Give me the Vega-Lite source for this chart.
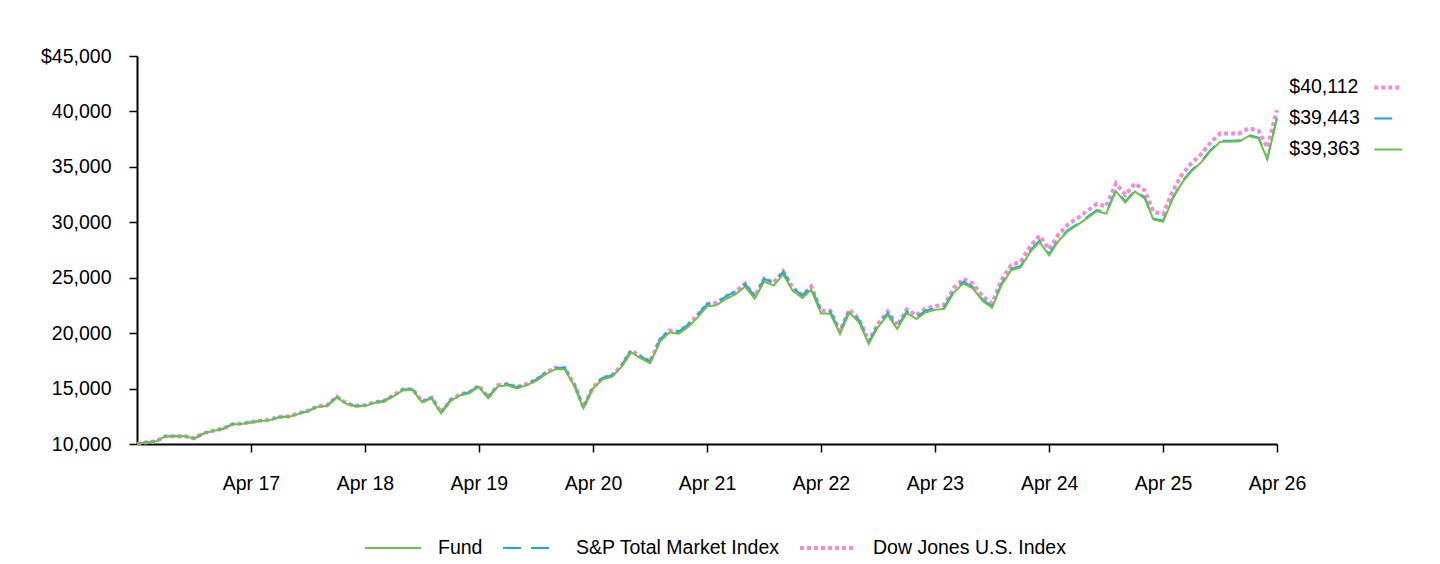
{
  "$schema": "https://vega.github.io/schema/vega-lite/v6.json",
  "width": 1140,
  "height": 388,
  "autosize": {"type": "none"},
  "padding": {"left": 137, "top": 56, "right": 163, "bottom": 120},
  "background": "white",
  "config": {
    "view": {"stroke": null},
    "font": "Liberation Sans",
    "axis": {"grid": false, "labelFont": "Liberation Sans", "labelFontSize": 19.5, "labelColor": "#000", "domainColor": "#000", "domainWidth": 2, "tickColor": "#000", "tickWidth": 1.5, "tickSize": 8},
    "legend": {"labelFont": "Liberation Sans", "labelFontSize": 19.5, "labelColor": "#000", "padding": 0, "labelLimit": 400}
  },
  "layer": [
    {
      "data": {"values": [
        {"date": "2016-04-01", "Fund": 10000, "SP": 10000, "DowJones": 10000},
        {"date": "2016-05-01", "Fund": 10150, "SP": 10150, "DowJones": 10150},
        {"date": "2016-06-01", "Fund": 10250, "SP": 10250, "DowJones": 10250},
        {"date": "2016-07-01", "Fund": 10680, "SP": 10690, "DowJones": 10690},
        {"date": "2016-08-01", "Fund": 10700, "SP": 10710, "DowJones": 10710},
        {"date": "2016-09-01", "Fund": 10700, "SP": 10710, "DowJones": 10710},
        {"date": "2016-10-01", "Fund": 10500, "SP": 10510, "DowJones": 10510},
        {"date": "2016-11-01", "Fund": 10950, "SP": 10960, "DowJones": 10970},
        {"date": "2016-12-01", "Fund": 11180, "SP": 11200, "DowJones": 11200},
        {"date": "2017-01-01", "Fund": 11350, "SP": 11370, "DowJones": 11370},
        {"date": "2017-02-01", "Fund": 11780, "SP": 11800, "DowJones": 11800},
        {"date": "2017-03-01", "Fund": 11800, "SP": 11820, "DowJones": 11830},
        {"date": "2017-04-01", "Fund": 11950, "SP": 11970, "DowJones": 11980},
        {"date": "2017-05-01", "Fund": 12070, "SP": 12100, "DowJones": 12100},
        {"date": "2017-06-01", "Fund": 12160, "SP": 12190, "DowJones": 12200},
        {"date": "2017-07-01", "Fund": 12400, "SP": 12430, "DowJones": 12440},
        {"date": "2017-08-01", "Fund": 12450, "SP": 12480, "DowJones": 12490},
        {"date": "2017-09-01", "Fund": 12720, "SP": 12760, "DowJones": 12770},
        {"date": "2017-10-01", "Fund": 12950, "SP": 12990, "DowJones": 13000},
        {"date": "2017-11-01", "Fund": 13360, "SP": 13400, "DowJones": 13410},
        {"date": "2017-12-01", "Fund": 13430, "SP": 13480, "DowJones": 13490},
        {"date": "2018-01-01", "Fund": 14200, "SP": 14250, "DowJones": 14260},
        {"date": "2018-02-01", "Fund": 13620, "SP": 13670, "DowJones": 13680},
        {"date": "2018-03-01", "Fund": 13380, "SP": 13430, "DowJones": 13440},
        {"date": "2018-04-01", "Fund": 13430, "SP": 13480, "DowJones": 13500},
        {"date": "2018-05-01", "Fund": 13700, "SP": 13760, "DowJones": 13770},
        {"date": "2018-06-01", "Fund": 13820, "SP": 13880, "DowJones": 13890},
        {"date": "2018-07-01", "Fund": 14300, "SP": 14360, "DowJones": 14380},
        {"date": "2018-08-01", "Fund": 14850, "SP": 14920, "DowJones": 14930},
        {"date": "2018-09-01", "Fund": 14870, "SP": 14940, "DowJones": 14950},
        {"date": "2018-10-01", "Fund": 13760, "SP": 13830, "DowJones": 13840},
        {"date": "2018-11-01", "Fund": 14100, "SP": 14170, "DowJones": 14180},
        {"date": "2018-12-01", "Fund": 12770, "SP": 12840, "DowJones": 12850},
        {"date": "2019-01-01", "Fund": 13900, "SP": 13980, "DowJones": 13990},
        {"date": "2019-02-01", "Fund": 14400, "SP": 14480, "DowJones": 14490},
        {"date": "2019-03-01", "Fund": 14570, "SP": 14660, "DowJones": 14660},
        {"date": "2019-04-01", "Fund": 15170, "SP": 15260, "DowJones": 15270},
        {"date": "2019-05-01", "Fund": 14120, "SP": 14210, "DowJones": 14210},
        {"date": "2019-06-01", "Fund": 15200, "SP": 15300, "DowJones": 15300},
        {"date": "2019-07-01", "Fund": 15300, "SP": 15400, "DowJones": 15410},
        {"date": "2019-08-01", "Fund": 15020, "SP": 15120, "DowJones": 15130},
        {"date": "2019-09-01", "Fund": 15300, "SP": 15400, "DowJones": 15410},
        {"date": "2019-10-01", "Fund": 15680, "SP": 15790, "DowJones": 15790},
        {"date": "2019-11-01", "Fund": 16290, "SP": 16410, "DowJones": 16410},
        {"date": "2019-12-01", "Fund": 16740, "SP": 16860, "DowJones": 16870},
        {"date": "2020-01-01", "Fund": 16740, "SP": 16870, "DowJones": 16870},
        {"date": "2020-02-01", "Fund": 15250, "SP": 15370, "DowJones": 15370},
        {"date": "2020-03-01", "Fund": 13220, "SP": 13320, "DowJones": 13320},
        {"date": "2020-04-01", "Fund": 15000, "SP": 15120, "DowJones": 15120},
        {"date": "2020-05-01", "Fund": 15830, "SP": 15960, "DowJones": 15960},
        {"date": "2020-06-01", "Fund": 16070, "SP": 16200, "DowJones": 16200},
        {"date": "2020-07-01", "Fund": 16950, "SP": 17090, "DowJones": 17090},
        {"date": "2020-08-01", "Fund": 18270, "SP": 18430, "DowJones": 18430},
        {"date": "2020-09-01", "Fund": 17730, "SP": 17890, "DowJones": 17890},
        {"date": "2020-10-01", "Fund": 17280, "SP": 17440, "DowJones": 17440},
        {"date": "2020-11-01", "Fund": 19230, "SP": 19410, "DowJones": 19410},
        {"date": "2020-12-01", "Fund": 20050, "SP": 20240, "DowJones": 20240},
        {"date": "2021-01-01", "Fund": 19950, "SP": 20140, "DowJones": 20140},
        {"date": "2021-02-01", "Fund": 20600, "SP": 20800, "DowJones": 20800},
        {"date": "2021-03-01", "Fund": 21400, "SP": 21610, "DowJones": 21610},
        {"date": "2021-04-01", "Fund": 22400, "SP": 22620, "DowJones": 22620},
        {"date": "2021-05-01", "Fund": 22520, "SP": 22750, "DowJones": 22750},
        {"date": "2021-06-01", "Fund": 23080, "SP": 23310, "DowJones": 23320},
        {"date": "2021-07-01", "Fund": 23500, "SP": 23740, "DowJones": 23750},
        {"date": "2021-08-01", "Fund": 24200, "SP": 24440, "DowJones": 24460},
        {"date": "2021-09-01", "Fund": 23100, "SP": 23330, "DowJones": 23350},
        {"date": "2021-10-01", "Fund": 24650, "SP": 24900, "DowJones": 24920},
        {"date": "2021-11-01", "Fund": 24300, "SP": 24540, "DowJones": 24570},
        {"date": "2021-12-01", "Fund": 25300, "SP": 25550, "DowJones": 25590},
        {"date": "2022-01-01", "Fund": 23800, "SP": 24040, "DowJones": 24070},
        {"date": "2022-02-01", "Fund": 23180, "SP": 23410, "DowJones": 23450},
        {"date": "2022-03-01", "Fund": 23920, "SP": 24160, "DowJones": 24200},
        {"date": "2022-04-01", "Fund": 21780, "SP": 22000, "DowJones": 22040},
        {"date": "2022-05-01", "Fund": 21750, "SP": 21960, "DowJones": 22020},
        {"date": "2022-06-01", "Fund": 19930, "SP": 20120, "DowJones": 20180},
        {"date": "2022-07-01", "Fund": 21850, "SP": 22050, "DowJones": 22130},
        {"date": "2022-08-01", "Fund": 20980, "SP": 21170, "DowJones": 21260},
        {"date": "2022-09-01", "Fund": 19030, "SP": 19200, "DowJones": 19290},
        {"date": "2022-10-01", "Fund": 20560, "SP": 20740, "DowJones": 20850},
        {"date": "2022-11-01", "Fund": 21640, "SP": 21820, "DowJones": 21950},
        {"date": "2022-12-01", "Fund": 20380, "SP": 20540, "DowJones": 20680},
        {"date": "2023-01-01", "Fund": 21800, "SP": 21970, "DowJones": 22130},
        {"date": "2023-02-01", "Fund": 21280, "SP": 21440, "DowJones": 21610},
        {"date": "2023-03-01", "Fund": 21860, "SP": 22020, "DowJones": 22200},
        {"date": "2023-04-01", "Fund": 22100, "SP": 22250, "DowJones": 22450},
        {"date": "2023-05-01", "Fund": 22200, "SP": 22350, "DowJones": 22560},
        {"date": "2023-06-01", "Fund": 23680, "SP": 23830, "DowJones": 24080},
        {"date": "2023-07-01", "Fund": 24480, "SP": 24630, "DowJones": 24900},
        {"date": "2023-08-01", "Fund": 24030, "SP": 24170, "DowJones": 24450},
        {"date": "2023-09-01", "Fund": 22900, "SP": 23030, "DowJones": 23300},
        {"date": "2023-10-01", "Fund": 22300, "SP": 22420, "DowJones": 22700},
        {"date": "2023-11-01", "Fund": 24360, "SP": 24490, "DowJones": 24810},
        {"date": "2023-12-01", "Fund": 25660, "SP": 25790, "DowJones": 26140},
        {"date": "2024-01-01", "Fund": 25950, "SP": 26070, "DowJones": 26440},
        {"date": "2024-02-01", "Fund": 27340, "SP": 27460, "DowJones": 27870},
        {"date": "2024-03-01", "Fund": 28220, "SP": 28340, "DowJones": 28780},
        {"date": "2024-04-01", "Fund": 27020, "SP": 27130, "DowJones": 27560},
        {"date": "2024-05-01", "Fund": 28320, "SP": 28430, "DowJones": 28890},
        {"date": "2024-06-01", "Fund": 29220, "SP": 29330, "DowJones": 29820},
        {"date": "2024-07-01", "Fund": 29760, "SP": 29870, "DowJones": 30380},
        {"date": "2024-08-01", "Fund": 30380, "SP": 30490, "DowJones": 31020},
        {"date": "2024-09-01", "Fund": 31000, "SP": 31110, "DowJones": 31660},
        {"date": "2024-10-01", "Fund": 30780, "SP": 30890, "DowJones": 31440},
        {"date": "2024-11-01", "Fund": 32800, "SP": 32910, "DowJones": 33510},
        {"date": "2024-12-01", "Fund": 31780, "SP": 31890, "DowJones": 32480},
        {"date": "2025-01-01", "Fund": 32780, "SP": 32890, "DowJones": 33510},
        {"date": "2025-02-01", "Fund": 32150, "SP": 32250, "DowJones": 32870},
        {"date": "2025-03-01", "Fund": 30250, "SP": 30340, "DowJones": 30940},
        {"date": "2025-04-01", "Fund": 30050, "SP": 30140, "DowJones": 30740},
        {"date": "2025-05-01", "Fund": 32050, "SP": 32140, "DowJones": 32770},
        {"date": "2025-06-01", "Fund": 33580, "SP": 33680, "DowJones": 34320},
        {"date": "2025-07-01", "Fund": 34600, "SP": 34700, "DowJones": 35340},
        {"date": "2025-08-01", "Fund": 35400, "SP": 35490, "DowJones": 36140},
        {"date": "2025-09-01", "Fund": 36450, "SP": 36540, "DowJones": 37200},
        {"date": "2025-10-01", "Fund": 37270, "SP": 37360, "DowJones": 38020},
        {"date": "2025-11-01", "Fund": 37270, "SP": 37360, "DowJones": 38000},
        {"date": "2025-12-01", "Fund": 37300, "SP": 37390, "DowJones": 38010},
        {"date": "2026-01-01", "Fund": 37780, "SP": 37870, "DowJones": 38480},
        {"date": "2026-02-01", "Fund": 37570, "SP": 37650, "DowJones": 38250},
        {"date": "2026-03-01", "Fund": 35680, "SP": 35750, "DowJones": 36750},
        {"date": "2026-04-01", "Fund": 39363, "SP": 39443, "DowJones": 40112}
      ]},
      "transform": [{"fold": ["DowJones", "SP", "Fund"], "as": ["series", "value"]}],
      "mark": {"type": "line", "strokeCap": "butt"},
      "encoding": {
        "x": {
          "field": "date", "type": "temporal", "scale": {"type": "utc"},
          "axis": {
            "title": null, "format": "%b %y", "labelPadding": 22, "labelFlush": false, "labelOverlap": false,
            "values": [
              {"year": 2017, "month": 4, "date": 1, "utc": true},
              {"year": 2018, "month": 4, "date": 1, "utc": true},
              {"year": 2019, "month": 4, "date": 1, "utc": true},
              {"year": 2020, "month": 4, "date": 1, "utc": true},
              {"year": 2021, "month": 4, "date": 1, "utc": true},
              {"year": 2022, "month": 4, "date": 1, "utc": true},
              {"year": 2023, "month": 4, "date": 1, "utc": true},
              {"year": 2024, "month": 4, "date": 1, "utc": true},
              {"year": 2025, "month": 4, "date": 1, "utc": true},
              {"year": 2026, "month": 4, "date": 1, "utc": true}
            ]
          }
        },
        "y": {
          "field": "value", "type": "quantitative",
          "scale": {"domain": [10000, 45000], "nice": false, "zero": false},
          "axis": {
            "title": null, "labelPadding": 18,
            "values": [10000, 15000, 20000, 25000, 30000, 35000, 40000, 45000],
            "labelExpr": "datum.value === 45000 ? '$45,000' : format(datum.value, ',')"
          }
        },
        "color": {
          "field": "series", "type": "nominal",
          "scale": {"domain": ["Fund", "SP", "DowJones"], "range": ["#6dc243", "#1aa8e0", "#f08bd9"]},
          "legend": {
            "orient": "none", "legendX": 218.25, "legendY": 481.75, "direction": "horizontal", "title": null,
            "symbolType": "stroke", "symbolSize": 3136,
            "symbolStrokeWidth": {"expr": "datum.value === 'DowJones' ? 4 : 2"},
            "symbolOffset": 28, "labelOffset": 35.25, "columnPadding": 10,
            "labelExpr": "datum.value === 'SP' ? 'S&P Total Market Index' : datum.value === 'DowJones' ? 'Dow Jones U.S. Index' : datum.value"
          }
        },
        "strokeDash": {
          "field": "series", "type": "nominal",
          "scale": {"domain": ["Fund", "SP", "DowJones"], "range": [[1, 0], [18, 10], [4, 3]]},
          "legend": {
            "orient": "none", "legendX": 218.25, "legendY": 481.75, "direction": "horizontal", "title": null,
            "symbolType": "stroke", "symbolSize": 3136,
            "symbolStrokeWidth": {"expr": "datum.value === 'DowJones' ? 4 : 2"},
            "symbolOffset": 28, "labelOffset": 35.25, "columnPadding": 10,
            "labelExpr": "datum.value === 'SP' ? 'S&P Total Market Index' : datum.value === 'DowJones' ? 'Dow Jones U.S. Index' : datum.value"
          }
        },
        "strokeWidth": {"condition": {"test": "datum.series === 'DowJones'", "value": 4}, "value": 2}
      }
    },
    {
      "data": {"values": [
        {"date": "2026-04-01", "label": "$40,112", "value": 40112},
        {"date": "2026-04-01", "label": "$39,443", "value": 39443},
        {"date": "2026-04-01", "label": "$39,363", "value": 39363}
      ]},
      "mark": {"type": "line", "strokeCap": "butt", "strokeWidth": 2},
      "encoding": {
        "x": {"field": "date", "type": "temporal"},
        "y": {"field": "value", "type": "quantitative"},
        "color": {
          "field": "label", "type": "nominal",
          "scale": {"domain": ["$40,112", "$39,443", "$39,363"], "range": ["#f08bd9", "#1aa8e0", "#6dc243"]},
          "legend": {
            "orient": "none", "legendX": 1152.3, "legendY": 21.7, "direction": "vertical", "title": null,
            "symbolType": "stroke", "symbolSize": 784,
            "symbolStrokeWidth": {"expr": "datum.value === '$40,112' ? 4 : 2"},
            "symbolOffset": 89.25, "labelOffset": -108.75, "rowPadding": 10
          }
        },
        "strokeDash": {
          "field": "label", "type": "nominal",
          "scale": {"domain": ["$40,112", "$39,443", "$39,363"], "range": [[4, 3], [18, 10], [1, 0]]},
          "legend": {
            "orient": "none", "legendX": 1152.3, "legendY": 21.7, "direction": "vertical", "title": null,
            "symbolType": "stroke", "symbolSize": 784,
            "symbolStrokeWidth": {"expr": "datum.value === '$40,112' ? 4 : 2"},
            "symbolOffset": 89.25, "labelOffset": -108.75, "rowPadding": 10
          }
        }
      }
    }
  ],
  "resolve": {"scale": {"color": "independent", "strokeDash": "independent"}}
}
